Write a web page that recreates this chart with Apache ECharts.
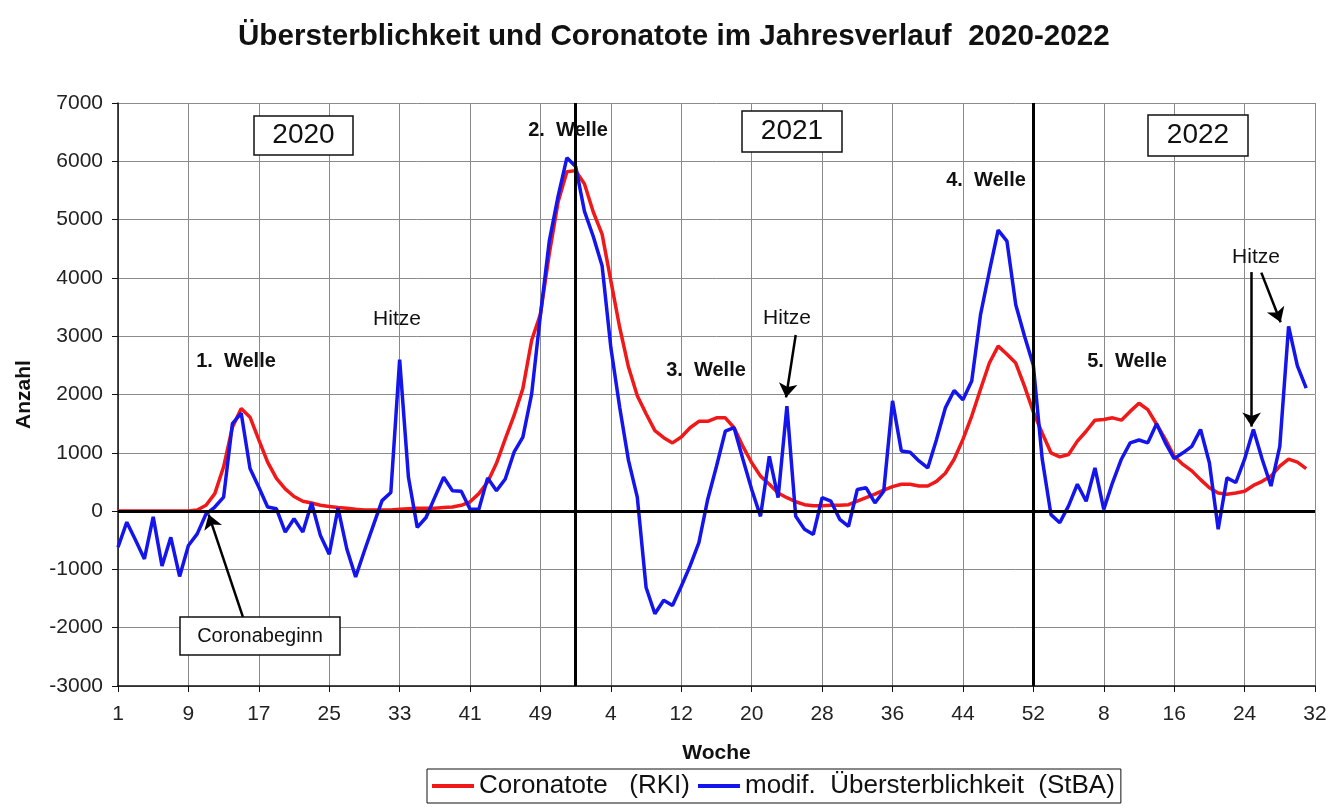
<!DOCTYPE html>
<html>
<head>
<meta charset="utf-8">
<title>Übersterblichkeit und Coronatote 2020-2022</title>
<script src="https://cdn.jsdelivr.net/npm/echarts@6/dist/echarts.min.js"></script>
<style>
    html, body { margin: 0; padding: 0; background: #fff; }
    #chart { width: 1336px; height: 809px; }
</style>
</head>
<body>
<div id="chart"></div>
<script>
// Kalenderwochen je Jahr (2022 auf der Achse bis KW 32)
var weeksPerYear = [53, 52, 32];

// Coronatote (RKI) je Woche
var deaths2020 = [0, 0, 0, 0, 0, 0, 0, 0, 0, 20, 100, 300, 760, 1440, 1760, 1610, 1220, 840, 560, 380,
    250, 170, 140, 100, 80, 60, 50, 30, 20, 20, 20, 20, 30, 40, 50, 50, 50, 60, 70, 100,
    160, 300, 500, 820, 1240, 1640, 2100, 2930, 3380, 4410, 5300, 5820, 5840];
var deaths2021 = [5610, 5130, 4750, 3950, 3150, 2470, 1980, 1670, 1380, 1260, 1170, 1270, 1430, 1540, 1540, 1600, 1600, 1430, 1110, 830,
    600, 460, 310, 230, 160, 110, 90, 90, 100, 100, 110, 170, 230, 290, 360, 420, 460, 460, 430, 430,
    510, 650, 890, 1230, 1630, 2090, 2540, 2830, 2690, 2540, 2140, 1700];
var deaths2022 = [1340, 1000, 930, 970, 1200, 1370, 1560, 1570, 1600, 1560, 1710, 1850, 1740, 1490, 1230, 940, 800, 690, 540, 400,
    310, 290, 310, 340, 440, 510, 600, 770, 890, 840, 730];

// modif. Übersterblichkeit (StBA) je Woche
var excess2020 = [-620, -190, -500, -820, -100, -940, -450, -1120, -590, -390, -50, 70, 240, 1500, 1680, 730, 410, 70, 40, -360,
    -130, -360, 140, -420, -740, 50, -650, -1130, -680, -250, 180, 320, 2600, 580, -280, -110, 240, 580, 350, 340,
    30, 30, 570, 350, 550, 1010, 1270, 2010, 3370, 4630, 5400, 6060, 5910];
var excess2021 = [5140, 4710, 4210, 2800, 1780, 870, 240, -1310, -1760, -1530, -1620, -1290, -940, -540, 200, 770, 1370, 1430, 890, 370,
    -90, 940, 230, 1800, -90, -310, -400, 230, 170, -140, -260, 370, 400, 140, 340, 1890, 1030, 1010, 860, 740,
    1230, 1770, 2070, 1910, 2230, 3370, 4110, 4820, 4630, 3540, 3000, 2500];
var excess2022 = [900, -60, -200, 90, 460, 170, 740, 30, 490, 890, 1170, 1220, 1170, 1500, 1170, 900, 1000, 1110, 1400, 830,
    -310, 570, 490, 890, 1400, 890, 430, 1110, 3170, 2490, 2110];

var seriesNames = ['Coronatote   (RKI)', 'modif.  Übersterblichkeit  (StBA)'];

// Achsenbeschriftung: Wochennummern fortlaufend über die Jahre
var weekLabels = [];
weeksPerYear.forEach(function (n) {
    for (var w = 1; w <= n; w++) {
        weekLabels.push(String(w));
    }
});

function toPoints(arr) {
    return arr.map(function (v, i) {
        return [i, v];
    });
}

var deaths = deaths2020.concat(deaths2021, deaths2022);
var excess = excess2020.concat(excess2021, excess2022);

var font = "'Liberation Sans', Arial, Helvetica, sans-serif";

function label(x, y, text, size, bold) {
    return {
        type: 'text',
        z: 20,
        style: {
            x: x,
            y: y,
            text: text,
            textAlign: 'center',
            textVerticalAlign: 'middle',
            font: (bold ? 'bold ' : '') + size + 'px ' + font,
            fill: '#111'
        }
    };
}

function boxLabel(x, y, w, h, text, size) {
    return [{
        type: 'rect',
        z: 19,
        shape: { x: x, y: y, width: w, height: h },
        style: { fill: '#fff', stroke: '#111', lineWidth: 1.5 }
    }, label(x + w / 2, y + h / 2, text, size, false)];
}

var myChart = echarts.init(document.getElementById('chart'));

var option = {
    animation: false,
    backgroundColor: '#fff',
    title: {
        text: 'Übersterblichkeit und Coronatote im Jahresverlauf  2020-2022',
        left: 233,
        top: 17,
        textStyle: { fontFamily: font, fontSize: 29.6, fontWeight: 'bold', color: '#111' }
    },
    grid: { left: 118, right: 21, top: 103, bottom: 123 },
    legend: {
        data: seriesNames,
        icon: 'rect',
        left: 427,
        top: 769,
        padding: [4, 6, 4, 5],
        itemGap: 8,
        itemWidth: 42,
        itemHeight: 4,
        borderColor: '#111',
        borderWidth: 1,
        borderRadius: 0,
        textStyle: { fontFamily: font, fontSize: 26, color: '#111' }
    },
    xAxis: {
        type: 'value',
        min: 0,
        max: 136,
        interval: 8,
        name: 'Woche',
        nameLocation: 'middle',
        nameGap: 57,
        nameTextStyle: { fontFamily: font, fontSize: 21, fontWeight: 'bold', color: '#111' },
        axisLine: { onZero: false, lineStyle: { color: '#111', width: 1.5 } },
        axisTick: { length: 6, lineStyle: { color: '#111' } },
        axisLabel: {
            margin: 18,
            fontFamily: font,
            fontSize: 21,
            color: '#222',
            formatter: function (v) {
                return weekLabels[v];
            }
        },
        splitLine: { show: true, lineStyle: { color: '#8a8a8a', width: 1 } }
    },
    yAxis: {
        type: 'value',
        min: -3000,
        max: 7000,
        interval: 1000,
        name: 'Anzahl',
        nameLocation: 'middle',
        nameGap: 83,
        nameTextStyle: { fontFamily: font, fontSize: 21, fontWeight: 'bold', color: '#111' },
        axisLine: { show: true, onZero: false, lineStyle: { color: '#111', width: 1.5 } },
        axisTick: { show: true, length: 6, lineStyle: { color: '#111' } },
        axisLabel: {
            margin: 15,
            fontFamily: font,
            fontSize: 21,
            color: '#222',
            formatter: function (v) {
                return String(v);
            }
        },
        splitLine: { lineStyle: { color: '#8a8a8a', width: 1 } }
    },
    series: [{
        // Nulllinie und Jahreswechsel
        type: 'line',
        data: [],
        z: 2,
        markLine: {
            silent: true,
            symbol: 'none',
            label: { show: false },
            lineStyle: { color: '#000', width: 3, type: 'solid' },
            data: [{ yAxis: 0 }, { xAxis: 52 }, { xAxis: 104 }]
        }
    }, {
        name: seriesNames[0],
        type: 'line',
        data: toPoints(deaths),
        symbol: 'none',
        z: 3,
        lineStyle: { color: '#f01818', width: 3.5 },
        itemStyle: { color: '#f01818' }
    }, {
        name: seriesNames[1],
        type: 'line',
        data: toPoints(excess),
        symbol: 'none',
        z: 4,
        lineStyle: { color: '#1414ec', width: 3.5 },
        itemStyle: { color: '#1414ec' }
    }, {
        // Hinweispfeile
        type: 'line',
        data: [],
        z: 6,
        markLine: {
            silent: true,
            symbol: ['none', 'arrow'],
            symbolSize: 14,
            label: { show: false },
            lineStyle: { color: '#000', width: 2.5, type: 'solid' },
            data: [
                [{ coord: [14.2, -1818] }, { coord: [10.3, -60] }],
                [{ coord: [77.0, 3020] }, { coord: [75.9, 1950] }],
                [{ coord: [128.8, 4100] }, { coord: [128.8, 1450] }],
                [{ coord: [129.9, 4090] }, { coord: [132.1, 3240] }]
            ]
        }
    }],
    graphic: [].concat(
        boxLabel(254, 116, 99, 39, '2020', 28),
        boxLabel(742, 111, 100, 41, '2021', 28),
        boxLabel(1148, 115, 100, 41, '2022', 28),
        boxLabel(180, 617, 160, 38, 'Coronabeginn', 20),
        [
            label(236, 361, '1.  Welle', 20, true),
            label(568, 130, '2.  Welle', 20, true),
            label(706, 370, '3.  Welle', 20, true),
            label(986, 180, '4.  Welle', 20, true),
            label(1127, 361, '5.  Welle', 20, true),
            label(397, 319, 'Hitze', 21, false),
            label(787, 318, 'Hitze', 21, false),
            label(1256, 257, 'Hitze', 21, false)
        ]
    )
};

myChart.setOption(option);
</script>
</body>
</html>
